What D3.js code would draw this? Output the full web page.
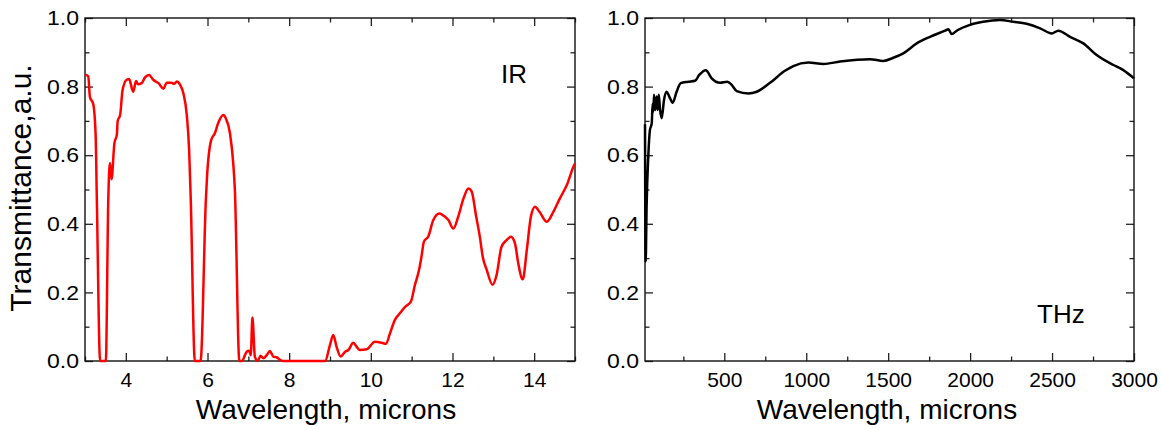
<!DOCTYPE html>
<html>
<head>
<meta charset="utf-8">
<script src="https://cdn.jsdelivr.net/npm/d3@7"></script>
<style>
  html, body { margin: 0; padding: 0; background: #fff; }
  svg { display: block; }
  text { font-family: "Liberation Sans", Arial, sans-serif; fill: #000; }
</style>
</head>
<body>
<script>
// ---------- data ----------
const irWavelength = [3.0,3.08,3.12,3.2,3.26,3.29,3.37,3.51,3.57,3.61,3.65,3.72,3.78,3.8,3.86,3.92,4.02,4.08,4.18,4.25,4.3,4.39,4.47,4.57,4.67,4.8,4.92,5.0,5.12,5.18,5.25,5.33,5.41,5.49,5.55,5.59,5.69,5.83,5.96,5.99,6.09,6.18,6.26,6.39,6.45,6.55,6.63,6.67,6.78,6.84,6.96,7.02,7.06,7.1,7.16,7.23,7.3,7.37,7.45,7.53,7.61,7.69,7.78,7.85,8.88,9.0,9.08,9.16,9.26,9.37,9.45,9.57,9.65,9.73,9.9,10.1,10.27,10.37,10.47,10.59,10.71,10.84,10.98,11.08,11.18,11.24,11.3,11.41,11.53,11.68,11.79,11.9,12.02,12.14,12.27,12.39,12.47,12.58,12.67,12.74,12.84,12.98,13.08,13.2,13.33,13.43,13.53,13.61,13.72,13.82,13.92,14.02,14.13,14.31,14.47,14.63,14.8,14.98,15.0];
const irTransmittance = [0.835,0.83,0.77,0.75,0.66,0.47,0,0,0.47,0.577,0.53,0.635,0.66,0.70,0.717,0.79,0.82,0.822,0.785,0.816,0.807,0.81,0.827,0.834,0.82,0.81,0.794,0.811,0.811,0.808,0.815,0.805,0.78,0.72,0.615,0.47,0,0,0.47,0.54,0.644,0.664,0.693,0.717,0.707,0.664,0.577,0.5,0,0,0.027,0.03,0.017,0.127,0.013,0.0,0.015,0.008,0.017,0.029,0.013,0.011,0.003,0,0,0.047,0.076,0.042,0.013,0.027,0.032,0.053,0.042,0.032,0.034,0.056,0.053,0.05,0.081,0.12,0.139,0.158,0.173,0.222,0.265,0.304,0.348,0.364,0.411,0.43,0.423,0.411,0.386,0.421,0.474,0.503,0.494,0.421,0.362,0.304,0.265,0.222,0.251,0.333,0.353,0.362,0.343,0.285,0.238,0.324,0.421,0.45,0.435,0.406,0.435,0.474,0.513,0.571,0.575];

const thzWavelength = [16,20,26,36,46,57,63,67,71,79,87,93,100,108,118,132,148,164,185,209,234,280,321,347,387,423,474,518,545,576,647,698,779,870,921,1013,1104,1206,1389,1470,1531,1592,1674,1755,1847,1867,1888,1918,1999,2080,2182,2263,2345,2427,2498,2538,2610,2691,2772,2874,2935,3000];
const thzTransmittance = [0.69,0.29,0.455,0.596,0.673,0.693,0.751,0.727,0.776,0.732,0.771,0.732,0.776,0.732,0.708,0.761,0.785,0.771,0.753,0.785,0.81,0.814,0.817,0.834,0.848,0.824,0.811,0.814,0.805,0.787,0.78,0.785,0.811,0.846,0.86,0.87,0.866,0.873,0.88,0.875,0.884,0.897,0.926,0.945,0.963,0.967,0.953,0.963,0.98,0.989,0.994,0.989,0.983,0.97,0.955,0.963,0.945,0.926,0.892,0.863,0.848,0.824];

const irMajorTicks = [4,6,8,10,12,14];
const irMinorTicks = [3,5,7,9,11,13,15];
const thzMajorTicks = [500,1000,1500,2000,2500,3000];
const thzMinorTicks = [250,750,1250,1750,2250,2750];
const yMajorTicks = [0,0.2,0.4,0.6,0.8,1.0];
const yMinorTicks = [0.1,0.3,0.5,0.7,0.9];

const xTitle = "Wavelength, microns";
const yTitle = "Transmittance,a.u.";

// ---------- layout ----------
const W = 1161, H = 430;
const plotTop = 18, plotBottom = 361;

const svg = d3.select("body").append("svg")
  .attr("width", W).attr("height", H);
svg.append("rect").attr("width", W).attr("height", H).attr("fill", "#fff");

const y = d3.scaleLinear().domain([0, 1]).range([plotBottom, plotTop]);

function panel(opts) {
  const x = d3.scaleLinear().domain(opts.domain).range([opts.left, opts.right]);
  const g = svg.append("g");

  const tickColor = "#222";
  function style(sel) {
    sel.select(".domain").remove();
    sel.selectAll("line").attr("stroke", tickColor).attr("stroke-width", 1.3);
    sel.selectAll("text").style("font-family", '"Liberation Sans", Arial, sans-serif')
      .style("font-size", "21px").attr("fill", "#000");
  }
  // bottom axis
  g.append("g").attr("transform", `translate(0,${plotBottom})`)
    .call(d3.axisBottom(x).tickValues(opts.major).tickSize(-8).tickPadding(11)
      .tickFormat(d3.format("d")))
    .call(style);
  g.append("g").attr("transform", `translate(0,${plotBottom})`)
    .call(d3.axisBottom(x).tickValues(opts.minor).tickSize(-4.5).tickFormat(""))
    .call(style);
  // top axis
  g.append("g").attr("transform", `translate(0,${plotTop})`)
    .call(d3.axisTop(x).tickValues(opts.major).tickSize(-8).tickFormat(""))
    .call(style);
  g.append("g").attr("transform", `translate(0,${plotTop})`)
    .call(d3.axisTop(x).tickValues(opts.minor).tickSize(-4.5).tickFormat(""))
    .call(style);
  // left axis
  g.append("g").attr("transform", `translate(${opts.left},0)`)
    .call(d3.axisLeft(y).tickValues(yMajorTicks).tickSize(-8).tickPadding(6)
      .tickFormat(d3.format(".1f")))
    .call(style)
    .call(s => s.selectAll("text")
      .attr("textLength", 32).attr("lengthAdjust", "spacingAndGlyphs"));
  g.append("g").attr("transform", `translate(${opts.left},0)`)
    .call(d3.axisLeft(y).tickValues(yMinorTicks).tickSize(-4.5).tickFormat(""))
    .call(style);
  // right axis
  g.append("g").attr("transform", `translate(${opts.right},0)`)
    .call(d3.axisRight(y).tickValues(yMajorTicks).tickSize(-8).tickFormat(""))
    .call(style);
  g.append("g").attr("transform", `translate(${opts.right},0)`)
    .call(d3.axisRight(y).tickValues(yMinorTicks).tickSize(-4.5).tickFormat(""))
    .call(style);

  // frame
  g.append("rect")
    .attr("x", opts.left).attr("y", plotTop)
    .attr("width", opts.right - opts.left).attr("height", plotBottom - plotTop)
    .attr("fill", "none").attr("stroke", "#111").attr("stroke-width", 1.4);

  // curve
  const data = opts.xs.map((v, i) => [v, opts.ys[i]]);
  g.append("path")
    .datum(data)
    .attr("fill", "none")
    .attr("stroke", opts.color)
    .attr("stroke-width", 2.5)
    .attr("stroke-linejoin", "round")
    .attr("d", d3.line().x(d => x(d[0])).y(d => y(d[1])).curve(d3.curveMonotoneX));

  // x title
  g.append("text")
    .attr("x", opts.titleX).attr("y", 419)
    .attr("text-anchor", "middle")
    .style("font-size", "28px")
    .text(xTitle);

  // label
  g.append("text")
    .attr("x", opts.labelX).attr("y", opts.labelY)
    .style("font-size", "26px")
    .text(opts.label);
}

panel({
  domain: [3, 15], left: 85, right: 575,
  major: irMajorTicks, minor: irMinorTicks,
  xs: irWavelength, ys: irTransmittance, color: "#ff0000",
  titleX: 326, label: "IR", labelX: 501, labelY: 83
});

panel({
  domain: [16, 3000], left: 645, right: 1134,
  major: thzMajorTicks, minor: thzMinorTicks,
  xs: thzWavelength, ys: thzTransmittance, color: "#000000",
  titleX: 887, label: "THz", labelX: 1037, labelY: 323
});

// y title
svg.append("text")
  .attr("transform", "translate(31,188) rotate(-90)")
  .attr("text-anchor", "middle")
  .style("font-size", "30px")
  .text(yTitle);
</script>
</body>
</html>
